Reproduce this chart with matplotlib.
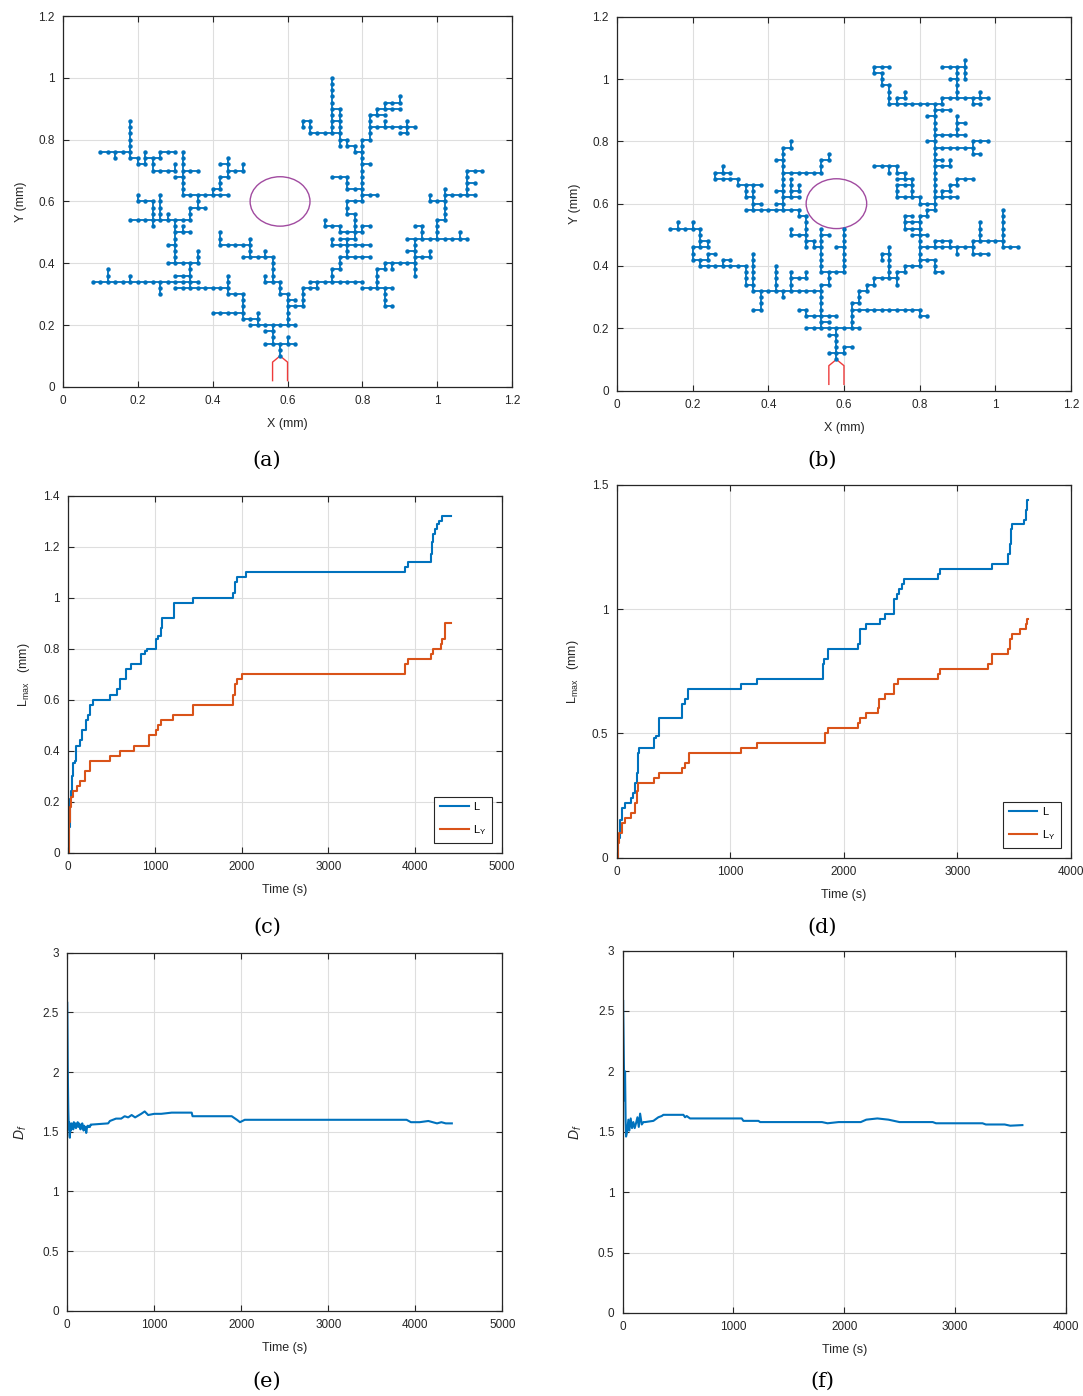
import matplotlib
matplotlib.use('Agg')
import matplotlib.pyplot as plt
from matplotlib.patches import Circle
from matplotlib.ticker import FuncFormatter
import numpy as np

plt.rcParams['font.family'] = ['Liberation Sans', 'DejaVu Sans']
plt.rcParams['mathtext.fontset'] = 'custom'
plt.rcParams['mathtext.rm'] = 'Liberation Sans'
plt.rcParams['mathtext.it'] = 'Liberation Sans:italic'

BLUE = '#0072BD'
ORANGE = '#D95319'
AXCOL = '#262626'

# ---- tree data: polylines on the 0.02 mm lattice (grid index units) ----
GRID = 0.02
TREE_A = [
    [(29, 5), (29, 7)], [(27, 7), (31, 7)], [(30, 7), (30, 8)], [(28, 7), (28, 10)],
    [(27, 9), (28, 9)], [(25, 10), (31, 10)], [(26, 10), (26, 12)], [(24, 11), (26, 11)],
    [(24, 11), (24, 15)], [(20, 12), (24, 12)], [(22, 15), (24, 15)], [(22, 15), (22, 18)],
    [(15, 16), (22, 16)], [(13, 15), (13, 17)], [(4, 17), (18, 17)], [(6, 17), (6, 19)],
    [(9, 17), (9, 18)], [(17, 16), (17, 20)], [(15, 18), (17, 18)], [(14, 20), (18, 20)],
    [(18, 20), (18, 22)], [(15, 20), (15, 27)], [(14, 23), (15, 23)], [(15, 25), (17, 25)],
    [(16, 25), (16, 26)], [(9, 27), (17, 27)], [(12, 26), (12, 30)], [(13, 27), (13, 31)],
    [(14, 27), (14, 28)], [(10, 30), (12, 30)], [(10, 30), (10, 31)], [(17, 27), (17, 29)],
    [(17, 29), (19, 29)], [(18, 29), (18, 31)], [(16, 31), (22, 31)], [(16, 31), (16, 38)],
    [(15, 34), (16, 34)], [(16, 35), (18, 35)], [(12, 35), (15, 35)], [(15, 35), (15, 36)],
    [(12, 35), (12, 37)], [(11, 37), (13, 37)], [(11, 36), (11, 38)], [(10, 36), (11, 36)],
    [(10, 36), (10, 37)], [(9, 37), (10, 37)], [(9, 37), (9, 43)], [(5, 38), (9, 38)],
    [(7, 37), (7, 38)], [(13, 37), (13, 38)], [(13, 38), (15, 38)],
    [(20, 31), (20, 32), (21, 32), (21, 34), (22, 34), (22, 35), (24, 35), (24, 36)],
    [(22, 35), (22, 37)], [(21, 36), (22, 36)],
    [(24, 21), (28, 21)], [(28, 17), (28, 21)], [(27, 17), (29, 17)], [(27, 17), (27, 18)],
    [(27, 21), (27, 22)], [(25, 21), (25, 24)], [(21, 23), (25, 23)], [(21, 23), (21, 25)],
    [(29, 15), (29, 17)], [(29, 15), (30, 15)], [(30, 10), (30, 15)], [(30, 14), (31, 14)],
    [(30, 13), (32, 13)], [(32, 13), (32, 16), (34, 16), (34, 17)], [(33, 17), (40, 17)],
    [(40, 16), (44, 16)], [(43, 13), (43, 16)], [(43, 13), (44, 13)],
    [(42, 16), (42, 19), (43, 19), (43, 20)], [(43, 20), (47, 20)], [(44, 19), (44, 20)],
    [(47, 18), (47, 24)], [(46, 22), (47, 22)], [(47, 21), (49, 21), (49, 22)],
    [(46, 24), (54, 24)], [(53, 24), (53, 25)], [(48, 24), (48, 26), (47, 26)],
    [(50, 24), (50, 27), (51, 27)], [(51, 27), (51, 30), (49, 30), (49, 31)],
    [(51, 30), (51, 32)], [(51, 31), (55, 31)], [(54, 31), (54, 35), (56, 35)],
    [(54, 33), (55, 33)], [(36, 17), (36, 19), (37, 19), (37, 21)], [(37, 21), (41, 21)],
    [(38, 21), (38, 24)], [(36, 24), (36, 23), (41, 23)], [(37, 24), (39, 24)],
    [(39, 24), (39, 28)], [(37, 25), (40, 25)], [(40, 25), (40, 26), (41, 26)],
    [(35, 27), (35, 26), (37, 26), (37, 25)], [(38, 28), (39, 28)], [(38, 28), (38, 30)],
    [(38, 30), (40, 30)], [(40, 30), (40, 40)], [(40, 31), (42, 31)], [(40, 36), (41, 36)],
    [(38, 32), (40, 32)], [(38, 32), (38, 34)], [(36, 34), (38, 34)],
    [(40, 38), (39, 38), (39, 39), (38, 39), (38, 40), (37, 40)], [(37, 39), (37, 45)],
    [(36, 41), (36, 50)], [(33, 41), (37, 41)], [(36, 45), (37, 45)], [(36, 43), (37, 43)],
    [(33, 41), (33, 43), (32, 43), (32, 42)], [(40, 40), (41, 40), (41, 44), (43, 44)],
    [(41, 42), (47, 42)], [(42, 44), (42, 45), (45, 45)],
    [(43, 45), (43, 46), (45, 46), (45, 47)], [(45, 41), (46, 41), (46, 43)],
    [(43, 42), (43, 43)],
]
TREE_B = [
    [(29, 5), (29, 10)], [(28, 6), (30, 6)], [(30, 6), (30, 7), (31, 7)], [(28, 9), (29, 9)],
    [(25, 10), (32, 10)], [(27, 10), (27, 11), (28, 11)],
    [(27, 11), (27, 17), (28, 17), (28, 19)], [(25, 12), (29, 12)],
    [(25, 12), (25, 13), (24, 13)],
    [(31, 10), (31, 14), (32, 14), (32, 16), (33, 16), (33, 17), (34, 17), (34, 18), (37, 18)],
    [(31, 13), (40, 13)], [(40, 12), (40, 13)], [(40, 12), (41, 12)],
    [(37, 17), (37, 19), (38, 19), (38, 20), (40, 20)], [(36, 18), (36, 23)],
    [(35, 21), (35, 22), (36, 22)], [(40, 20), (40, 28), (41, 28), (41, 29), (42, 29)],
    [(40, 21), (42, 21)], [(42, 19), (42, 21)], [(42, 19), (43, 19)], [(40, 23), (47, 23)],
    [(42, 23), (42, 24), (44, 24), (44, 23)], [(45, 22), (45, 23)], [(47, 22), (49, 22)],
    [(47, 22), (47, 24), (51, 24)], [(51, 23), (53, 23)], [(51, 23), (51, 29)],
    [(48, 24), (48, 27)], [(39, 25), (41, 25)], [(38, 26), (40, 26)],
    [(38, 26), (38, 28), (39, 28)], [(38, 27), (40, 27)], [(42, 29), (42, 46)],
    [(40, 30), (42, 30)],
    [(40, 30), (40, 31), (37, 31), (37, 33), (39, 33), (39, 34), (37, 34)],
    [(39, 31), (39, 33)], [(34, 36), (37, 36), (37, 35), (38, 35), (38, 34)],
    [(36, 35), (36, 36)], [(42, 31), (45, 31)],
    [(43, 31), (43, 32), (44, 32), (44, 33), (45, 33), (45, 34), (47, 34)],
    [(42, 36), (44, 36), (44, 37)], [(42, 37), (43, 37)], [(42, 39), (47, 39)],
    [(47, 38), (47, 40), (49, 40)], [(47, 38), (48, 38)], [(41, 40), (42, 40)],
    [(42, 41), (46, 41)], [(45, 41), (45, 44)], [(45, 43), (46, 43)], [(41, 44), (42, 44)],
    [(42, 45), (44, 45)], [(36, 46), (43, 46)], [(37, 46), (37, 47), (38, 47), (38, 48)],
    [(36, 46), (36, 49), (35, 49), (35, 51), (34, 51), (34, 52), (36, 52)],
    [(43, 46), (43, 47), (49, 47)], [(45, 47), (45, 52)], [(43, 52), (46, 52)],
    [(46, 50), (46, 53)], [(44, 50), (45, 50)], [(48, 47), (48, 48)], [(47, 46), (48, 46)],
    [(47, 46), (47, 47)],
    [(30, 19), (30, 26)], [(27, 19), (30, 19)], [(29, 23), (30, 23)], [(27, 19), (27, 26)],
    [(27, 25), (28, 25)], [(25, 23), (25, 28), (24, 28)],
    [(25, 24), (26, 24), (26, 23), (27, 23)], [(23, 25), (25, 25)], [(23, 25), (23, 26)],
    [(17, 29), (24, 29)], [(24, 28), (24, 29)], [(22, 29), (22, 39), (23, 39), (23, 40)],
    [(21, 37), (22, 37)], [(21, 32), (22, 32)], [(21, 30), (22, 30)], [(22, 31), (24, 31)],
    [(23, 31), (23, 34)], [(23, 32), (24, 32), (24, 33)], [(22, 35), (27, 35)],
    [(27, 35), (27, 37), (28, 37), (28, 38)], [(18, 29), (18, 33)], [(18, 30), (19, 30)],
    [(17, 31), (17, 33)], [(17, 31), (18, 31)], [(16, 33), (19, 33)], [(13, 34), (16, 34)],
    [(16, 33), (16, 34)], [(13, 34), (13, 35), (15, 35)], [(14, 35), (14, 36)],
    [(18, 16), (27, 16)], [(18, 16), (18, 22)], [(17, 17), (17, 20)], [(17, 17), (18, 17)],
    [(11, 20), (17, 20)], [(14, 20), (14, 21), (15, 21)], [(21, 16), (21, 20)],
    [(23, 16), (23, 19)], [(23, 18), (25, 18), (25, 19)], [(22, 15), (22, 16)],
    [(19, 13), (19, 16)], [(18, 13), (19, 13)], [(11, 20), (11, 21)], [(10, 21), (12, 21)],
    [(12, 21), (12, 22), (13, 22)], [(10, 21), (10, 23), (12, 23)], [(11, 23), (11, 26)],
    [(12, 23), (12, 24), (11, 24)], [(7, 26), (11, 26)], [(8, 26), (8, 27)],
    [(10, 26), (10, 27)],
]
ELECTRODE_X = [0.56, 0.56, 0.58, 0.60, 0.60]
ELECTRODE_Y = [0.02, 0.08, 0.10, 0.08, 0.02]
OBSTACLE_C = (0.58, 0.60)
OBSTACLE_R = 0.08

# ---- L_max vs time (step curves; value holds from each time onward) ----
C_L_T = [0, 10, 19, 30, 45, 58, 77, 96, 142, 162, 212, 231, 250, 288, 481, 565, 596, 673,
         731, 838, 885, 911, 1019, 1040, 1077, 1088, 1223, 1442, 1904, 1923, 1942, 2046,
         3888, 3920, 4188, 4196, 4210, 4225, 4250, 4273, 4304]
C_L_V = [0, 0.10, 0.21, 0.24, 0.30, 0.35, 0.36, 0.42, 0.44, 0.48, 0.52, 0.54, 0.58, 0.60,
         0.62, 0.64, 0.68, 0.72, 0.74, 0.78, 0.79, 0.80, 0.84, 0.85, 0.88, 0.92, 0.98, 1.00,
         1.02, 1.06, 1.08, 1.10, 1.12, 1.14, 1.17, 1.22, 1.25, 1.27, 1.29, 1.30, 1.32]
C_LY_T = [0, 10, 19, 30, 55, 100, 142, 200, 250, 481, 596, 758, 931, 1012, 1040, 1077, 1204,
          1435, 1904, 1925, 1950, 2000, 3888, 3915, 4188, 4205, 4292, 4311, 4342]
C_LY_V = [0, 0.12, 0.18, 0.22, 0.24, 0.26, 0.28, 0.32, 0.36, 0.38, 0.40, 0.42, 0.46, 0.48,
          0.50, 0.52, 0.54, 0.58, 0.62, 0.66, 0.68, 0.70, 0.74, 0.76, 0.78, 0.80, 0.82, 0.84,
          0.90]
C_END = 4415

D_L_T = [0, 8, 15, 29, 44, 73, 123, 146, 161, 175, 184, 199, 330, 345, 374, 579, 599, 629,
         1091, 1237, 1813, 1820, 1827, 1857, 2126, 2141, 2200, 2318, 2362, 2444, 2465, 2488,
         2515, 2529, 2832, 2847, 3309, 3450, 3465, 3471, 3479, 3588, 3606, 3612]
D_L_V = [0, 0.04, 0.08, 0.15, 0.20, 0.22, 0.24, 0.26, 0.30, 0.34, 0.42, 0.44, 0.48, 0.49,
         0.56, 0.62, 0.64, 0.68, 0.70, 0.72, 0.74, 0.78, 0.80, 0.84, 0.86, 0.92, 0.94, 0.96,
         0.98, 1.04, 1.06, 1.08, 1.10, 1.12, 1.14, 1.16, 1.18, 1.22, 1.26, 1.32, 1.34, 1.36,
         1.40, 1.44]
D_LY_T = [0, 8, 20, 44, 73, 123, 161, 175, 190, 330, 374, 579, 599, 635, 1091, 1237, 1836,
          1857, 2126, 2141, 2200, 2303, 2312, 2362, 2444, 2479, 2832, 2847, 3274, 3303, 3450,
          3465, 3479, 3553, 3606, 3618]
D_LY_V = [0, 0.06, 0.10, 0.14, 0.16, 0.18, 0.22, 0.27, 0.30, 0.32, 0.34, 0.36, 0.38, 0.42,
          0.44, 0.46, 0.50, 0.52, 0.54, 0.56, 0.58, 0.60, 0.64, 0.66, 0.70, 0.72, 0.74, 0.76,
          0.78, 0.82, 0.84, 0.88, 0.90, 0.92, 0.94, 0.96]
D_END = 3620

# ---- fractal dimension vs time ----
E_T = [0, 2, 4, 6, 8, 10, 12, 15, 18, 22, 26, 30, 35, 42, 50, 57, 63, 69, 76, 82, 88, 94,
       100, 108, 115, 120, 126, 134, 146, 152, 157, 165, 172, 180, 188, 195, 203, 211, 218,
       226, 233, 241, 250, 260, 270, 280, 470, 490, 560, 620, 660, 700, 740, 780, 850, 890,
       930, 1000, 1080, 1200, 1430, 1440, 1890, 1950, 1985, 2040, 2200, 3900, 3950, 4050,
       4150, 4250, 4300, 4350, 4420]
E_D = [2.58, 2.45, 2.25, 2.05, 1.9, 1.78, 1.68, 1.6, 1.52, 1.58, 1.47, 1.45, 1.55, 1.51,
       1.57, 1.54, 1.56, 1.52, 1.58, 1.55, 1.54, 1.57, 1.53, 1.56, 1.55, 1.58, 1.54, 1.57,
       1.55, 1.52, 1.56, 1.53, 1.57, 1.54, 1.51, 1.55, 1.52, 1.54, 1.49, 1.53, 1.55, 1.54,
       1.55, 1.54, 1.56, 1.56, 1.57, 1.59, 1.61, 1.61, 1.63, 1.62, 1.64, 1.62, 1.65, 1.67,
       1.64, 1.65, 1.65, 1.66, 1.66, 1.63, 1.63, 1.60, 1.58, 1.60, 1.60, 1.60, 1.58, 1.58,
       1.59, 1.57, 1.58, 1.57, 1.57]
F_T = [0, 3, 6, 10, 14, 18, 21, 26, 30, 40, 51, 60, 72, 84, 96, 108, 120, 133, 145, 157,
       172, 187, 202, 277, 307, 322, 352, 367, 548, 563, 578, 608, 1075, 1090, 1226, 1241,
       1800, 1850, 1950, 2150, 2200, 2300, 2400, 2500, 2800, 2830, 3250, 3280, 3450, 3500,
       3610]
F_D = [2.3, 2.59, 2.4, 2.1, 1.85, 1.76, 2.0, 1.6, 1.46, 1.5, 1.6, 1.51, 1.61, 1.53, 1.58,
       1.53, 1.57, 1.62, 1.54, 1.65, 1.56, 1.58, 1.58, 1.59, 1.61, 1.62, 1.63, 1.64, 1.64,
       1.62, 1.63, 1.61, 1.61, 1.59, 1.59, 1.58, 1.58, 1.57, 1.58, 1.58, 1.60, 1.61, 1.60,
       1.58, 1.58, 1.57, 1.57, 1.56, 1.56, 1.55, 1.555]


def fmt(v, p):
    return f'{v:g}'


def style(ax, xlim, ylim, xt, yt):
    ax.set_xlim(*xlim)
    ax.set_ylim(*ylim)
    ax.set_xticks(xt)
    ax.set_yticks(yt)
    ax.xaxis.set_major_formatter(FuncFormatter(fmt))
    ax.yaxis.set_major_formatter(FuncFormatter(fmt))
    ax.grid(True, color='#dedede', lw=0.8)
    ax.set_axisbelow(True)
    ax.tick_params(direction='in', top=True, right=True, length=4, width=0.8,
                   colors=AXCOL, labelsize=8.5, pad=6)
    for s in ax.spines.values():
        s.set_color(AXCOL)
        s.set_linewidth(0.9)


def draw_tree(ax, paths):
    nodes = set()
    for p in paths:
        xs = [q[0] * GRID for q in p]
        ys = [q[1] * GRID for q in p]
        ax.plot(xs, ys, '-', color=BLUE, lw=1.3, solid_capstyle='butt', zorder=3)
        for (a, b), (c, d) in zip(p[:-1], p[1:]):
            n = max(abs(c - a), abs(d - b))
            for k in range(n + 1):
                nodes.add((a + (c - a) * k // n, b + (d - b) * k // n))
    nx = [q[0] * GRID for q in nodes]
    ny = [q[1] * GRID for q in nodes]
    ax.plot(nx, ny, 'o', color=BLUE, ms=3.2, mew=0, zorder=4)
    ax.plot(ELECTRODE_X, ELECTRODE_Y, color='#EE3B3B', lw=1.0, zorder=3)
    ax.add_patch(Circle(OBSTACLE_C, OBSTACLE_R, fill=False, ec='#A14BA0', lw=1.0, zorder=3))
    style(ax, (0, 1.2), (0, 1.2), np.arange(0, 1.21, 0.2), np.arange(0, 1.21, 0.2))
    ax.set_xlabel('X (mm)', fontsize=9, labelpad=8, color=AXCOL)
    ax.set_ylabel('Y (mm)', fontsize=9, labelpad=8, color=AXCOL)


def draw_lmax(ax, lt, lv, yt, yv, end, xmax, ymax, yticks):
    ax.step(lt + [end], lv + [lv[-1]], where='post', color=BLUE, lw=1.5, label='L')
    ax.step(yt + [end], yv + [yv[-1]], where='post', color=ORANGE, lw=1.5,
            label=r'L$_{\mathrm{Y}}$')
    style(ax, (0, xmax), (0, ymax), np.arange(0, xmax + 1, 1000), yticks)
    ax.set_xlabel('Time (s)', fontsize=9, labelpad=8, color=AXCOL)
    ax.set_ylabel(r'L$_{\mathrm{max}}$   (mm)', fontsize=9, labelpad=8, color=AXCOL)
    leg = ax.legend(loc='lower right', fontsize=8, handlelength=2.6, labelspacing=1.0,
                    fancybox=False, edgecolor=AXCOL, framealpha=1, borderaxespad=0.9,
                    borderpad=0.5, handletextpad=0.4)
    leg.get_frame().set_linewidth(0.8)


def draw_df(ax, t, d, xmax):
    ax.plot(t, d, color=BLUE, lw=1.5)
    style(ax, (0, xmax), (0, 3), np.arange(0, xmax + 1, 1000), np.arange(0, 3.01, 0.5))
    ax.set_xlabel('Time (s)', fontsize=9, labelpad=8, color=AXCOL)
    ax.set_ylabel(r'$D_f$', fontsize=10, labelpad=10, color=AXCOL)


fig = plt.figure(figsize=(10.83, 13.96), dpi=100)

ax_a = fig.add_axes([0.0582, 0.7229, 0.4146, 0.2656])
draw_tree(ax_a, TREE_A)
ax_b = fig.add_axes([0.5697, 0.7202, 0.4192, 0.2678])
draw_tree(ax_b, TREE_B)

ax_c = fig.add_axes([0.0628, 0.3892, 0.4007, 0.2557])
draw_lmax(ax_c, C_L_T, C_L_V, C_LY_T, C_LY_V, C_END, 5000, 1.4, np.arange(0, 1.41, 0.2))
ax_d = fig.add_axes([0.5695, 0.3856, 0.4192, 0.2672])
draw_lmax(ax_d, D_L_T, D_L_V, D_LY_T, D_LY_V, D_END, 4000, 1.5, np.arange(0, 1.51, 0.5))

ax_e = fig.add_axes([0.0621, 0.0610, 0.4017, 0.2566])
draw_df(ax_e, E_T, E_D, 5000)
ax_f = fig.add_axes([0.5750, 0.0595, 0.4089, 0.2596])
draw_df(ax_f, F_T, F_D, 4000)

for lab, x, y in [('(a)', 0.2465, 0.6705), ('(b)', 0.759, 0.6705),
                  ('(c)', 0.2465, 0.336), ('(d)', 0.759, 0.336),
                  ('(e)', 0.2465, 0.0107), ('(f)', 0.759, 0.0107)]:
    fig.text(x, y, lab, ha='center', va='center', fontsize=15, family='DejaVu Serif')

fig.savefig('out.png', dpi=100)
